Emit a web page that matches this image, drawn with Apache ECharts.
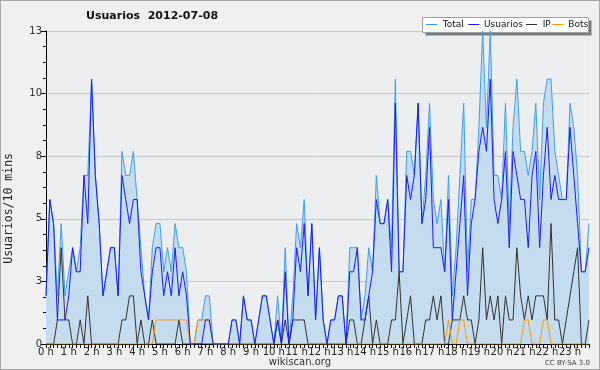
<!DOCTYPE html>
<html>
<head>
<meta charset="utf-8">
<script src="https://cdn.jsdelivr.net/npm/echarts@6/dist/echarts.min.js"></script>
<style>
html,body{margin:0;padding:0;background:#f0f0f0;}
#c{width:600px;height:370px;box-sizing:border-box;border:1px solid #a8a8a8;background:#f0f0f0;}
</style>
</head>
<body>
<div id="c"></div>
<script>
// 10-minute slots, 144 per day
const hourLabels = ['0 h','1 h','2 h','3 h','4 h','5 h','6 h','7 h','8 h','9 h','10 h','11 h','12 h','13 h','14 h','15 h','16 h','17 h','18 h','19 h','20 h','21 h','22 h','23 h'];
const seriesNames = ['Total', 'Usuarios', 'IP', 'Bots'];

const total = [
 2,6,5,2,5,2,3,4,3,4,
 7,7,11,7,5,2,3,4,4,2,
 8,7,7,8,6,4,2,1,4,5,
 5,3,4,3,5,4,4,3,0,0,
 1,1,2,2,0,0,0,0,0,1,
 1,0,2,1,1,0,1,2,2,1,
 0,2,0,4,0,2,5,4,6,2,
 5,1,4,1,0,1,1,2,2,0,
 4,4,4,1,2,4,3,7,5,5,
 6,4,11,3,3,8,8,7,10,5,
 7,10,6,5,6,3,7,2,4,7,
 10,3,6,6,9,13,9,13,7,7,
 6,10,5,9,11,8,8,7,8,10,
 6,10,11,11,8,7,6,6,10,9,
 7,3,3,5];
const usuarios = [
 2,6,5,1,1,1,2,4,3,3,
 7,5,11,7,5,2,3,4,4,2,
 7,6,5,6,6,3,2,1,3,4,
 4,2,3,2,4,2,3,2,0,0,
 0,0,1,1,0,0,0,0,0,1,
 1,0,2,1,1,0,1,2,2,1,
 0,1,0,3,0,1,4,3,5,2,
 5,1,4,1,0,1,1,2,2,0,
 3,3,4,1,1,2,3,6,5,5,
 6,3,10,3,3,7,6,7,10,5,
 6,9,4,4,4,3,6,1,3,5,
 7,2,5,6,8,9,8,11,6,5,
 6,8,4,8,7,6,6,4,7,8,
 4,7,9,6,7,6,6,6,9,7,
 5,3,3,4];
const ip = [
 0,0,0,1,4,1,1,0,0,1,
 0,2,0,0,0,0,0,0,0,0,
 1,1,2,2,0,1,0,0,1,0,
 0,0,0,0,0,1,0,0,0,0,
 0,0,0,0,0,0,0,0,0,0,
 0,0,0,0,0,0,0,0,0,0,
 0,1,0,1,0,1,1,1,1,0,
 0,0,0,0,0,0,0,0,0,0,
 1,1,0,0,1,2,0,1,0,0,
 0,1,1,3,0,1,2,0,0,0,
 1,1,2,1,2,0,0,1,1,1,
 2,1,1,0,1,4,1,2,1,2,
 0,2,1,1,4,2,1,2,1,2,
 2,2,1,5,1,1,0,1,2,3,
 4,0,0,1];
const bots = [
 0,0,0,0,0,0,0,0,0,0,
 0,0,0,0,0,0,0,0,0,0,
 0,0,0,0,0,0,0,0,0,1,
 1,1,1,1,1,1,1,1,0,0,
 1,1,1,1,0,0,0,0,0,0,
 0,0,0,0,0,0,0,0,0,0,
 0,0,0,0,0,0,0,0,0,0,
 0,0,0,0,0,0,0,0,0,0,
 0,0,0,0,0,0,0,0,0,0,
 0,0,0,0,0,0,0,0,0,0,
 0,0,0,0,0,0,1,0,0,1,
 1,0,0,0,0,0,0,0,0,0,
 0,0,0,0,0,0,1,1,0,0,
 0,1,1,0,0,0,0,0,0,0,
 0,0,0,0];

const slots = total.map((_, i) => String(i));
const FONT = 'DejaVu Sans';
const COLORS = {Total: '#3d9ef0', Usuarios: '#1a1aff', IP: '#333333', Bots: '#ff9900'};

// legend drawn as a boxed row: sample line + label for each series
const legendIconX = [425, 467.3, 525, 551.3];
const legendTextX = [441.7, 483, 541.7, 567.3];
const legendY = 23.5;
const legendGraphics = [
  {type: 'rect', z: 0, shape: {x: 424.5, y: 19.5, width: 166, height: 15}, style: {fill: '#7c7c7c'}},
  {type: 'rect', z: 1, shape: {x: 421.5, y: 16.5, width: 166, height: 15}, style: {fill: '#ffffff', stroke: '#a0a0a0', lineWidth: 1}}
];
seriesNames.forEach((n, k) => {
  legendGraphics.push({type: 'line', z: 2,
    shape: {x1: legendIconX[k], y1: legendY, x2: legendIconX[k] + 11, y2: legendY},
    style: {stroke: COLORS[n], lineWidth: 1}});
  legendGraphics.push({type: 'text', z: 2, x: legendTextX[k], y: legendY + 0.5,
    style: {text: n, fontFamily: FONT, fontSize: 9, fill: '#111', verticalAlign: 'middle'}});
});

const chart = echarts.init(document.getElementById('c'), null, {renderer: 'canvas'});
chart.setOption({
  backgroundColor: '#f0f0f0',
  animation: false,
  title: {
    text: 'Usuarios  2012-07-08',
    left: 80, top: 5,
    textStyle: {fontFamily: FONT, fontSize: 11, fontWeight: 'bold', color: '#111'}
  },
  grid: {
    left: 45, right: 10, top: 30, bottom: 25,
    show: true, backgroundColor: '#eceef0', borderWidth: 0
  },
  xAxis: {
    type: 'category', data: slots, boundaryGap: false,
    axisLine: {lineStyle: {color: '#000', width: 1}},
    axisTick: {interval: 0, length: 4, lineStyle: {color: '#000'}},
    axisLabel: {
      interval: (idx) => idx % 6 === 0,
      formatter: (v, idx) => hourLabels[Math.round(idx / 6)],
      fontFamily: FONT, fontSize: 10, color: '#222', margin: 3
    },
    splitLine: {show: false}
  },
  yAxis: {
    type: 'value', min: 0, max: 13, interval: 2.6,
    axisLine: {show: true, lineStyle: {color: '#000', width: 1}},
    axisTick: {show: true, length: 5, lineStyle: {color: '#000'}},
    minorTick: {show: true, splitNumber: 4, length: 3, lineStyle: {color: '#000'}},
    axisLabel: {
      formatter: (v) => String(Math.round(v)),
      fontFamily: FONT, fontSize: 10, color: '#333', margin: 4
    },
    splitLine: {show: true, lineStyle: {color: '#c8c8c8', width: 1}}
  },
  graphic: legendGraphics.concat([
    {type: 'text', left: 2, top: 152, rotation: Math.PI / 2,
     style: {text: 'Usuarios/10 mins', fontFamily: 'DejaVu Sans Mono', fontSize: 11.5, fill: '#222'}},
    {type: 'text', x: 299, y: 361, style: {text: 'wikiscan.org', fontFamily: FONT, fontSize: 10, fill: '#333', align: 'center', verticalAlign: 'middle'}},
    {type: 'text', x: 589, y: 362, style: {text: 'CC BY-SA 3.0', fontFamily: FONT, fontSize: 7, fill: '#444', align: 'right', verticalAlign: 'middle'}}
  ]),
  series: [
    {name: 'Total', type: 'line', data: total, symbol: 'none', z: 2,
     lineStyle: {color: COLORS.Total, width: 1}, itemStyle: {color: COLORS.Total},
     areaStyle: {color: '#c5dcef', opacity: 1}},
    {name: 'IP', type: 'line', data: ip, symbol: 'none', z: 3,
     lineStyle: {color: COLORS.IP, width: 1}, itemStyle: {color: COLORS.IP}},
    {name: 'Bots', type: 'line', data: bots, symbol: 'none', z: 4,
     lineStyle: {color: COLORS.Bots, width: 1}, itemStyle: {color: COLORS.Bots}},
    {name: 'Usuarios', type: 'line', data: usuarios, symbol: 'none', z: 5,
     lineStyle: {color: COLORS.Usuarios, width: 1}, itemStyle: {color: COLORS.Usuarios}}
  ]
});
</script>
</body>
</html>
